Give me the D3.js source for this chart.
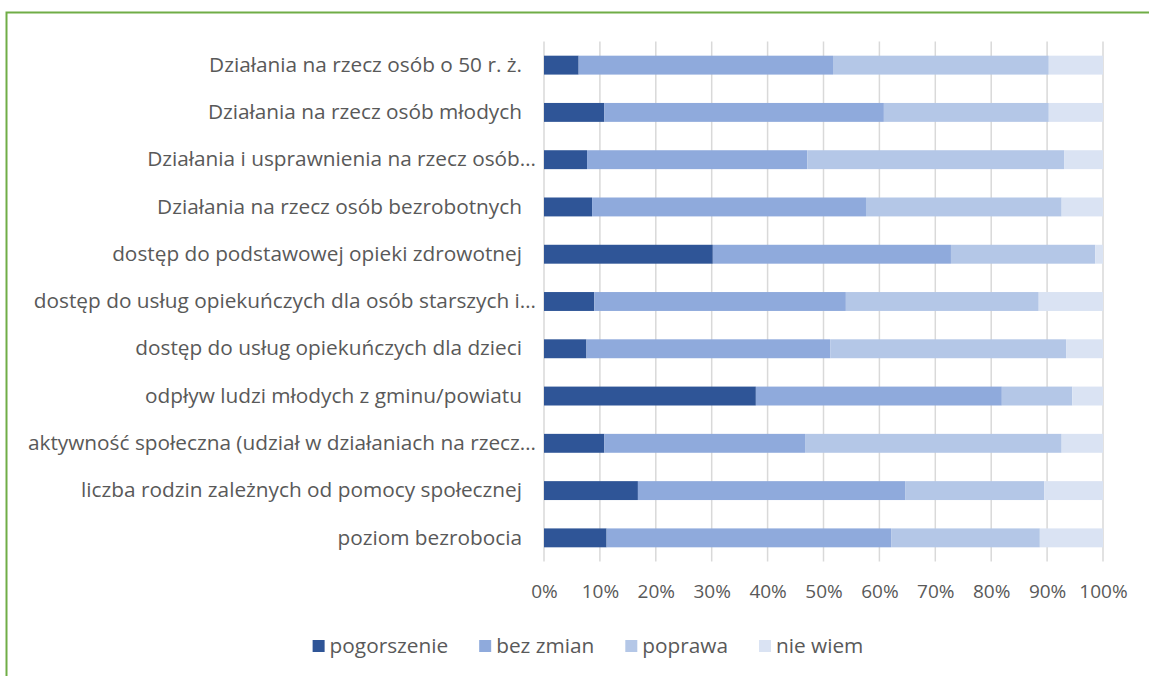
<!DOCTYPE html>
<html><head><meta charset="utf-8">
<script src="https://cdn.jsdelivr.net/npm/d3@7"></script>
<style>
html,body{margin:0;padding:0;background:#fff;}
svg{display:block;font-family:"Open Sans",sans-serif;}
</style></head>
<body><svg id="c" width="1149" height="676"></svg>
<script>
const categories = [
  "Działania na rzecz osób o 50 r. ż.",
  "Działania na rzecz osób młodych",
  "Działania i usprawnienia na rzecz osób…",
  "Działania na rzecz osób bezrobotnych",
  "dostęp do podstawowej opieki zdrowotnej",
  "dostęp do usług opiekuńczych dla osób starszych i…",
  "dostęp do usług opiekuńczych dla dzieci",
  "odpływ ludzi młodych z gminu/powiatu",
  "aktywność społeczna (udział w działaniach na rzecz…",
  "liczba rodzin zależnych od pomocy społecznej",
  "poziom bezrobocia"
];
const seriesNames = ["pogorszenie", "bez zmian", "poprawa", "nie wiem"];
const pogorszenie = [6.2, 10.8, 7.7, 8.6, 30.2, 9.0, 7.6, 37.9, 10.8, 16.8, 11.2];
const bezZmian    = [45.5, 50.0, 39.4, 49.0, 42.6, 45.0, 43.6, 44.0, 35.9, 47.8, 50.9];
const poprawa     = [38.6, 29.5, 46.0, 35.0, 25.8, 34.5, 42.2, 12.6, 45.9, 24.9, 26.6];
const nieWiem     = [9.7, 9.7, 6.9, 7.4, 1.4, 11.5, 6.6, 5.5, 7.4, 10.5, 11.3];
const tickValues  = [0, 0.1, 0.2, 0.3, 0.4, 0.5, 0.6, 0.7, 0.8, 0.9, 1.0];
const colors = ["#2F5597", "#8FAADC", "#B4C7E7", "#DAE3F3"];

const svg = d3.select("#c");
const textColor = "#595959";
const FONT = "'Open Sans',sans-serif";
const FS_CAT = "20.8px";
const FS_TICK = "19px";

// frame
svg.append("path").attr("d","M6.5,676 L6.5,12.5 L1149,12.5")
  .attr("fill","none").attr("stroke","#70AD47").attr("stroke-width",2);

const table = categories.map((c,i)=>{
  const vals=[pogorszenie[i],bezZmian[i],poprawa[i],nieWiem[i]];
  const tot=d3.sum(vals);
  const o={cat:c};
  seriesNames.forEach((s,j)=>o[s]=vals[j]/tot);
  return o;
});
const stacked = d3.stack().keys(seriesNames)(table);

const x = d3.scaleLinear().domain([0,1]).range([544,1103]);
const y = d3.scaleBand().domain(categories).range([41.5,561.5]).paddingInner(0.6).paddingOuter(0.3);

// gridlines
svg.append("g").selectAll("line").data(tickValues).join("line")
  .attr("x1",d=>x(d)).attr("x2",d=>x(d)).attr("y1",41.5).attr("y2",561.5)
  .attr("stroke","#D9D9D9").attr("stroke-width",1.5);

// bars
svg.append("g").selectAll("g").data(stacked).join("g")
  .attr("fill",(d,i)=>colors[i])
  .selectAll("rect").data(d=>d).join("rect")
  .attr("x",d=>x(d[0])).attr("width",d=>x(d[1])-x(d[0]))
  .attr("y",d=>y(d.data.cat)).attr("height",y.bandwidth());

// category axis
const yAxis = svg.append("g").attr("transform","translate(522,0)")
  .call(d3.axisLeft(y).tickSize(0).tickPadding(0));
yAxis.select(".domain").remove();
yAxis.selectAll("text").attr("fill",textColor).style("font-size",FS_CAT)
  .style("font-family",FONT)
  .attr("dx",d=>d.endsWith("…")?14:0);

// value axis
const xAxis = svg.append("g").attr("transform","translate(0,578)")
  .call(d3.axisBottom(x).tickValues(tickValues).tickFormat(d3.format(".0%")).tickSize(0).tickPadding(6));
xAxis.select(".domain").remove();
xAxis.selectAll("text").attr("fill",textColor).style("font-size",FS_TICK)
  .style("font-family",FONT);

// legend
const leg = svg.append("g");
const items = leg.selectAll("g").data(seriesNames).join("g");
items.append("rect").attr("width",12).attr("height",12).attr("y",-6).attr("fill",(d,i)=>colors[i]);
items.append("text").text(d=>d).attr("x",17).attr("dy","0.35em")
  .attr("fill",textColor).style("font-size",FS_CAT).style("font-family",FONT);
let cx=0; const pos=[];
items.each(function(){ const w=this.getBBox().width; pos.push(cx); cx+=w+31; });
const totalW=cx-31;
items.attr("transform",(d,i)=>`translate(${pos[i]},0)`);
leg.attr("transform",`translate(${588-totalW/2},646)`);
</script></body></html>
